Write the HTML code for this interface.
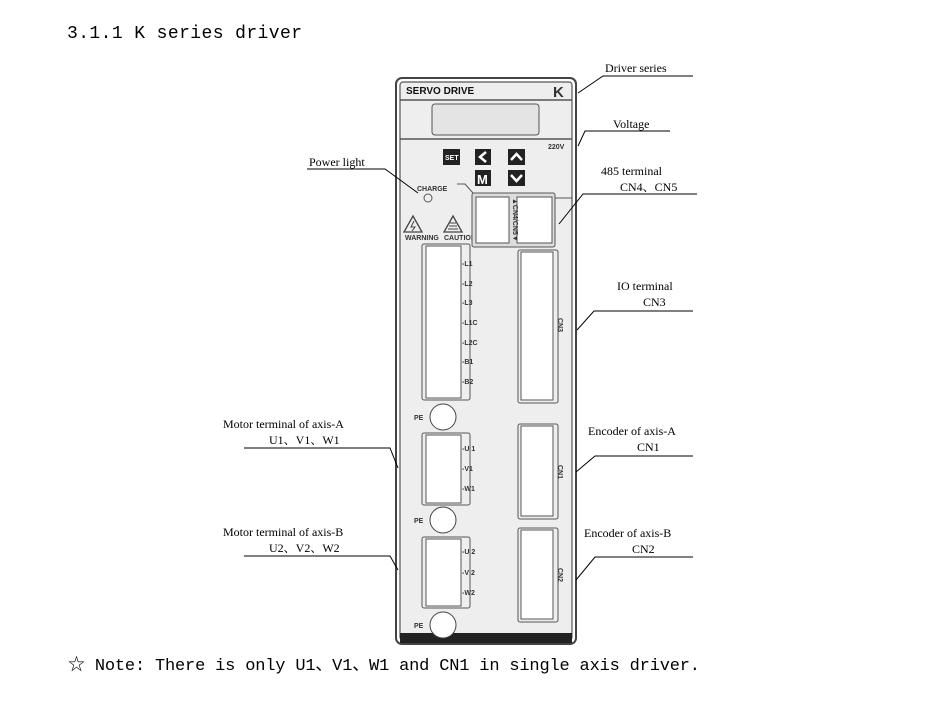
<!DOCTYPE html>
<html><head><meta charset="utf-8"><style>
body{margin:0;background:#fff;width:940px;height:705px;overflow:hidden}
svg{display:block}
.m{font-family:"Liberation Mono","Noto Sans CJK SC",monospace;fill:#000}
.s{font-family:"Liberation Serif","Noto Serif CJK SC",serif;font-size:12px;fill:#000}
.a{font-family:"Liberation Sans",sans-serif;font-weight:bold;font-size:7px;fill:#333}
</style></head><body>
<svg width="940" height="705" viewBox="0 0 940 705">
<text class="m" x="67" y="38" font-size="18" textLength="235">3.1.1 K series driver</text>
<text class="m" x="68" y="670" font-size="17" textLength="632">☆ Note: There is only U1、V1、W1 and CN1 in single axis driver.</text>

<!-- body -->
<rect x="396" y="78" width="180" height="566" rx="6" fill="#fff" stroke="#444" stroke-width="2"/>
<rect x="400" y="82" width="172" height="558" rx="3" fill="#eee" stroke="#555" stroke-width="1.2"/>
<rect x="400" y="633" width="172" height="10" fill="#222"/>
<line x1="400" y1="100" x2="572" y2="100" stroke="#555" stroke-width="1.5"/>
<text x="406" y="94" font-family="Liberation Sans,sans-serif" font-weight="bold" font-size="10" fill="#111">SERVO DRIVE</text>
<text x="553" y="97" font-family="Liberation Sans,sans-serif" font-weight="bold" font-size="15" fill="#333">K</text>
<rect x="432" y="104" width="107" height="31" rx="3" fill="#e4e4e4" stroke="#555"/>
<line x1="400" y1="139" x2="572" y2="139" stroke="#555" stroke-width="1.5"/>
<text x="548" y="149" class="a">220V</text>
<rect x="443" y="149" width="17" height="16" fill="#222"/><text x="445" y="160" font-family="Liberation Sans,sans-serif" font-weight="bold" font-size="7" fill="#fff">SET</text>
<rect x="475" y="149" width="16" height="16" fill="#222"/><path d="M486 152 L480 157 L486 162" stroke="#fff" stroke-width="2.5" fill="none"/>
<rect x="508" y="149" width="17" height="16" fill="#222"/><path d="M511 160 L516.5 154 L522 160" stroke="#fff" stroke-width="2.5" fill="none"/>
<rect x="475" y="170" width="16" height="16" fill="#222"/><text x="477" y="184" font-family="Liberation Sans,sans-serif" font-weight="bold" font-size="13" fill="#fff">M</text>
<rect x="508" y="170" width="17" height="16" fill="#222"/><path d="M511 175 L516.5 181 L522 175" stroke="#fff" stroke-width="2.5" fill="none"/>
<text x="417" y="191" class="a" font-size="6">CHARGE</text>
<circle cx="428" cy="198" r="4" fill="none" stroke="#555"/>
<path d="M457 184 L465 184 L473 193" stroke="#555" fill="none"/>
<path d="M404 232 L413 216 L422 232 Z" fill="none" stroke="#444" stroke-width="1.3"/><path d="M414 221 L411 227 L415 227 L412 231" stroke="#444" fill="none"/>
<path d="M444 232 L453 216 L462 232 Z" fill="none" stroke="#444" stroke-width="1.3"/><path d="M448 229 h10 M449 226 h8 M450 223 h6" stroke="#444"/>
<text x="405" y="240" class="a" font-size="5">WARNING</text><text x="444" y="240" class="a" font-size="5">CAUTION</text>
<!-- 485 -->
<rect x="472" y="193" width="83" height="54" rx="2" fill="#ddd" stroke="#555"/>
<rect x="476" y="197" width="33" height="46" fill="#fff" stroke="#555"/>
<rect x="517" y="197" width="35" height="46" fill="#fff" stroke="#555"/>
<text transform="translate(513,198) rotate(90)" class="a" font-size="5">▲CN4/CN5▼</text>
<line x1="555" y1="198" x2="572" y2="198" stroke="#555"/>
<!-- L block -->
<rect x="422" y="244" width="48" height="156" rx="2" fill="none" stroke="#555"/>
<rect x="426" y="246" width="35" height="152" fill="#fff" stroke="#555"/>
<g class="a"><text x="462" y="266">-L1</text><text x="462" y="286">-L2</text><text x="462" y="305">-L3</text><text x="462" y="325">-L1C</text><text x="462" y="345">-L2C</text><text x="462" y="364">-B1</text><text x="462" y="384">-B2</text></g>
<rect x="518" y="250" width="40" height="153" rx="2" fill="none" stroke="#555"/>
<rect x="521" y="252" width="32" height="148" fill="#fff" stroke="#555"/>
<text transform="translate(558,318) rotate(90)" class="a">CN3</text>
<circle cx="443" cy="417" r="13" fill="#fff" stroke="#444"/><text x="414" y="420" class="a">PE</text>
<!-- U1 -->
<rect x="422" y="433" width="48" height="72" rx="2" fill="none" stroke="#555"/>
<rect x="426" y="435" width="35" height="68" fill="#fff" stroke="#555"/>
<g class="a"><text x="462" y="451">-U 1</text><text x="462" y="471">-V1</text><text x="462" y="491">-W1</text></g>
<circle cx="443" cy="520" r="13" fill="#fff" stroke="#444"/><text x="414" y="523" class="a">PE</text>
<rect x="422" y="537" width="48" height="71" rx="2" fill="none" stroke="#555"/>
<rect x="426" y="539" width="35" height="67" fill="#fff" stroke="#555"/>
<g class="a"><text x="462" y="554">-U 2</text><text x="462" y="575">-V 2</text><text x="462" y="595">-W2</text></g>
<circle cx="443" cy="625" r="13" fill="#fff" stroke="#444"/><text x="414" y="628" class="a">PE</text>
<rect x="518" y="424" width="40" height="95" rx="2" fill="none" stroke="#555"/>
<rect x="521" y="426" width="32" height="90" fill="#fff" stroke="#555"/>
<text transform="translate(558,465) rotate(90)" class="a">CN1</text>
<rect x="518" y="528" width="40" height="94" rx="2" fill="none" stroke="#555"/>
<rect x="521" y="530" width="32" height="89" fill="#fff" stroke="#555"/>
<text transform="translate(558,568) rotate(90)" class="a">CN2</text>

<!-- callouts -->
<g stroke="#000" stroke-width="1" fill="none">
<path d="M693 76 H603 L578 93"/>
<path d="M670 131 H585 L578 146"/>
<path d="M697 194 H583 L559 224"/>
<path d="M693 311 H594 L577 330"/>
<path d="M693 456 H595 L576 472"/>
<path d="M693 557 H595 L576 580"/>
<path d="M307 169 H385 L418 193"/>
<path d="M244 448 H390 L398 468"/>
<path d="M244 556 H390 L398 570"/>
</g>
<g class="s">
<text x="605" y="72">Driver series</text>
<text x="613" y="128">Voltage</text>
<text x="601" y="175">485 terminal</text>
<text x="620" y="191">CN4、CN5</text>
<text x="617" y="290">IO terminal</text>
<text x="643" y="306">CN3</text>
<text x="588" y="435">Encoder of axis-A</text>
<text x="637" y="451">CN1</text>
<text x="584" y="537">Encoder of axis-B</text>
<text x="632" y="553">CN2</text>
<text x="309" y="166">Power light</text>
<text x="223" y="428">Motor terminal of axis-A</text>
<text x="269" y="444">U1、V1、W1</text>
<text x="223" y="536">Motor terminal of axis-B</text>
<text x="269" y="552">U2、V2、W2</text>
</g>
</svg>
</body></html>
